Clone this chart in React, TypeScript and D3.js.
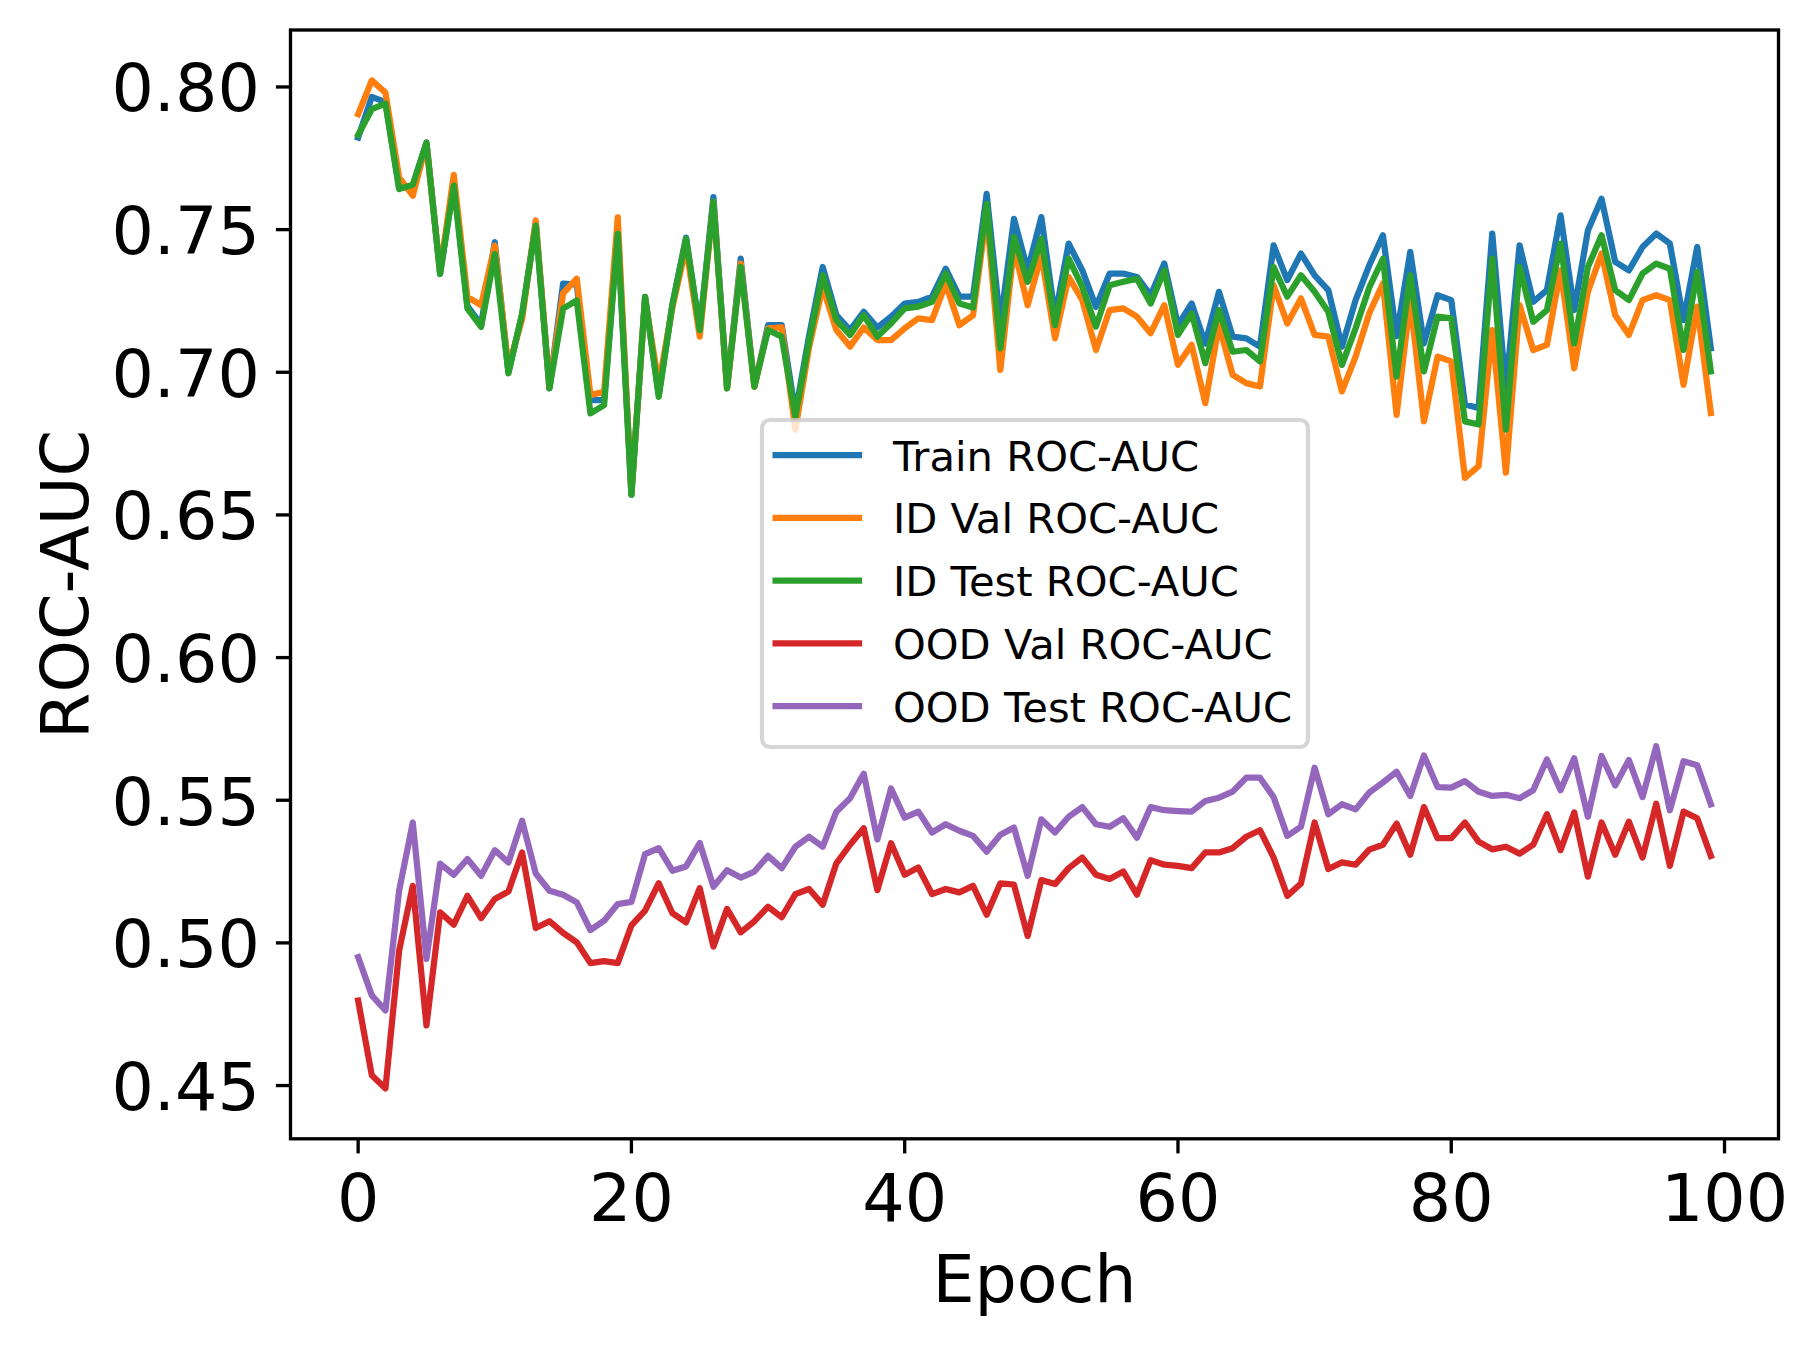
import React from "react";
import * as d3 from "d3";

// ---- Data ----
const trainAUC = [
  0.7823, 0.7965, 0.7947, 0.7647, 0.7652, 0.7805, 0.7345, 0.7667, 0.7232, 0.7167,
  0.7456, 0.7002, 0.7202, 0.7522, 0.6944, 0.7311, 0.7307, 0.6902, 0.6902, 0.7497,
  0.6571, 0.7264, 0.6922, 0.7237, 0.7472, 0.7147, 0.7614, 0.6944, 0.7398, 0.695,
  0.7165, 0.7165, 0.6857, 0.7127, 0.7369, 0.72, 0.7148, 0.7212, 0.7157, 0.7195,
  0.7241, 0.7247, 0.7265, 0.7363, 0.7265, 0.7265, 0.7625, 0.7171, 0.7538, 0.7357,
  0.7544, 0.7195, 0.7451, 0.7357, 0.7229, 0.7346, 0.7346, 0.7334, 0.727, 0.7381,
  0.7165, 0.7241, 0.7101, 0.7282, 0.7125, 0.7119, 0.709, 0.7445, 0.7323, 0.7416,
  0.734, 0.7288, 0.709, 0.7253, 0.7375, 0.748, 0.7127, 0.7422, 0.7101, 0.727,
  0.7253, 0.6887, 0.6875, 0.7486, 0.6939, 0.7445, 0.7247, 0.7288, 0.755, 0.7218,
  0.7497, 0.7608, 0.7387, 0.7357, 0.7439, 0.7486, 0.7451, 0.7183, 0.7439, 0.7084,
];

const idValAUC = [
  0.7905, 0.8023, 0.798, 0.7683, 0.7619, 0.7802, 0.7352, 0.7692, 0.7264, 0.7235,
  0.7444, 0.7017, 0.7186, 0.7532, 0.6947, 0.7277, 0.7328, 0.692, 0.6932, 0.7543,
  0.6577, 0.7257, 0.6957, 0.7227, 0.7439, 0.7125, 0.7597, 0.6944, 0.7381, 0.695,
  0.7154, 0.7157, 0.6799, 0.7087, 0.7299, 0.7148, 0.709, 0.7157, 0.7113, 0.7113,
  0.7154, 0.7189, 0.7183, 0.7311, 0.7165, 0.72, 0.7557, 0.7008, 0.7437, 0.7235,
  0.741, 0.7119, 0.7334, 0.7253, 0.7078, 0.7218, 0.7224, 0.7195, 0.7137, 0.7235,
  0.7026, 0.7096, 0.6892, 0.7165, 0.6991, 0.6962, 0.695, 0.7305, 0.7171, 0.7259,
  0.7131, 0.7125, 0.6933, 0.7055, 0.7207, 0.7311, 0.6851, 0.7253, 0.6828, 0.7055,
  0.7038, 0.663, 0.6671, 0.7148, 0.6648, 0.7235, 0.7078, 0.7096, 0.7357, 0.7014,
  0.7282, 0.7416, 0.72, 0.7131, 0.7253, 0.727, 0.7253, 0.6956, 0.723, 0.6857,
];

const idTestAUC = [
  0.7832, 0.7922, 0.7942, 0.7642, 0.7657, 0.7805, 0.7345, 0.7654, 0.7223, 0.7159,
  0.7415, 0.6996, 0.7206, 0.7514, 0.6944, 0.7223, 0.7252, 0.6856, 0.6885, 0.7485,
  0.6571, 0.7264, 0.6914, 0.7237, 0.7468, 0.7148, 0.7597, 0.6944, 0.7369, 0.695,
  0.7148, 0.7125, 0.6845, 0.7107, 0.734, 0.7183, 0.7131, 0.72, 0.7125, 0.7171,
  0.7224, 0.723, 0.7247, 0.7346, 0.7241, 0.7227, 0.759, 0.7084, 0.7474, 0.7317,
  0.7468, 0.7165, 0.7398, 0.7299, 0.716, 0.7305, 0.7317, 0.7328, 0.7241, 0.7357,
  0.7131, 0.7206, 0.7032, 0.7218, 0.7072, 0.7078, 0.7038, 0.7369, 0.7265, 0.734,
  0.7282, 0.7212, 0.7026, 0.7154, 0.7297, 0.7398, 0.6985, 0.734, 0.7003, 0.7195,
  0.7189, 0.6828, 0.6817, 0.7398, 0.6799, 0.7369, 0.7177, 0.7218, 0.7451, 0.7101,
  0.7369, 0.748, 0.7288, 0.7253, 0.7346, 0.7381, 0.7363, 0.7078, 0.7352, 0.7003,
];

const oodValAUC = [
  0.4798, 0.4536, 0.449, 0.4973, 0.52, 0.4711, 0.5107, 0.5064, 0.5165, 0.5087,
  0.5154, 0.518, 0.5317, 0.5052, 0.5076, 0.5035, 0.5002, 0.4929, 0.4936, 0.4929,
  0.5061, 0.5113, 0.5209, 0.5104, 0.5072, 0.5192, 0.4987, 0.5119, 0.5037, 0.5076,
  0.5127, 0.509, 0.5171, 0.5189, 0.5134, 0.5279, 0.5344, 0.5402, 0.5185, 0.5349,
  0.5239, 0.5264, 0.5171, 0.5189, 0.5177, 0.52, 0.5099, 0.5209, 0.5204, 0.5024,
  0.522, 0.5206, 0.5262, 0.5299, 0.5239, 0.5224, 0.525, 0.5169, 0.529, 0.5274,
  0.527, 0.5262, 0.5317, 0.5317, 0.5332, 0.5372, 0.5395, 0.5299, 0.5165, 0.5208,
  0.5422, 0.5259, 0.5282, 0.5274, 0.5327, 0.5344, 0.5418, 0.5309, 0.5476, 0.5367,
  0.5367, 0.5422, 0.5355, 0.5328, 0.5337, 0.5313, 0.5344, 0.5451, 0.5325, 0.5457,
  0.5232, 0.5422, 0.5309, 0.5425, 0.5299, 0.5488, 0.527, 0.546, 0.5437, 0.5305,
];

const oodTestAUC = [
  0.495, 0.4816, 0.4763, 0.5183, 0.5422, 0.4944, 0.5278, 0.5239, 0.5294, 0.5235,
  0.5325, 0.5282, 0.5428, 0.5243, 0.5183, 0.5169, 0.5142, 0.5045, 0.5078, 0.5136,
  0.5144, 0.5311, 0.5332, 0.5253, 0.5268, 0.535, 0.5197, 0.5255, 0.5229, 0.525,
  0.5305, 0.5262, 0.5337, 0.5372, 0.5337, 0.546, 0.5507, 0.5593, 0.5363, 0.5541,
  0.5439, 0.546, 0.5387, 0.5416, 0.5393, 0.5375, 0.532, 0.5379, 0.5404, 0.5235,
  0.5433, 0.5387, 0.5442, 0.5476, 0.5416, 0.5407, 0.5437, 0.5369, 0.5476, 0.5465,
  0.5462, 0.546, 0.5497, 0.5509, 0.553, 0.5579, 0.5579, 0.5511, 0.5375, 0.5407,
  0.5614, 0.5451, 0.5486, 0.5468, 0.5527, 0.5562, 0.56, 0.5515, 0.5657, 0.5546,
  0.5544, 0.5567, 0.553, 0.5515, 0.5519, 0.5507, 0.5535, 0.5643, 0.5535, 0.5647,
  0.5442, 0.5655, 0.5552, 0.5641, 0.5511, 0.5689, 0.5465, 0.5637, 0.5623, 0.5486,
];

const seriesLabels = [
  "Train ROC-AUC",
  "ID Val ROC-AUC",
  "ID Test ROC-AUC",
  "OOD Val ROC-AUC",
  "OOD Test ROC-AUC",
];
const seriesValues = [trainAUC, idValAUC, idTestAUC, oodValAUC, oodTestAUC];
const seriesColors = ["#1f77b4", "#ff7f0e", "#2ca02c", "#d62728", "#9467bd"];

const xLabel = "Epoch";
const yLabel = "ROC-AUC";

// ---- Layout ----
const W = 1818;
const H = 1346;
const AX = { left: 290.5, right: 1778.5, top: 30, bottom: 1138.8 };
const FONT = "'DejaVu Sans', sans-serif";
const TICK_FS = 66.7;
const LEG_FS = 41.67;
const LINE_W = 6.25;
const SPINE_W = 3.33;
const TICK_LEN = 14.6;

export default function App() {
  const n = trainAUC.length;
  const epochs = d3.range(n);

  // matplotlib-like 5% margins
  const xPad = (n - 1) * 0.05;
  const xScale = d3
    .scaleLinear()
    .domain([0 - xPad, n - 1 + xPad])
    .range([AX.left, AX.right]);

  const allVals = seriesValues.flat();
  const yMin = d3.min(allVals) as number;
  const yMax = d3.max(allVals) as number;
  const yPad = (yMax - yMin) * 0.05;
  const yScale = d3
    .scaleLinear()
    .domain([yMin - yPad, yMax + yPad])
    .range([AX.bottom, AX.top]);

  const xTicks = xScale.ticks(5).filter((t) => t >= 0);
  const yTicks = yScale.ticks(8);
  const yFmt = d3.format(".2f");

  const line = (vals: number[]) =>
    d3
      .line<number>()
      .x((_, i) => xScale(epochs[i]))
      .y((d) => yScale(d))(vals) as string;

  // legend layout
  const leg = { x: 762, y: 420, w: 546, h: 327 };
  const legRow0 = 455;
  const legRowStep = 62.75;
  const handleX0 = 775.6;
  const handleX1 = 859;
  const textX = 893;

  return (
    <svg
      width={W}
      height={H}
      viewBox={`0 0 ${W} ${H}`}
      style={{ position: "absolute", left: 0, top: 0, background: "#fff" }}
      fontFamily={FONT}
    >
      <rect x={0} y={0} width={W} height={H} fill="#fff" />
      <defs>
        <clipPath id="plotClip">
          <rect
            x={AX.left}
            y={AX.top}
            width={AX.right - AX.left}
            height={AX.bottom - AX.top}
          />
        </clipPath>
      </defs>

      {/* lines */}
      <g clipPath="url(#plotClip)">
        {seriesValues.map((vals, si) => (
          <path
            key={si}
            d={line(vals)}
            fill="none"
            stroke={seriesColors[si]}
            strokeWidth={LINE_W}
            strokeLinejoin="round"
            strokeLinecap="square"
          />
        ))}
      </g>

      {/* spines */}
      <rect
        x={AX.left}
        y={AX.top}
        width={AX.right - AX.left}
        height={AX.bottom - AX.top}
        fill="none"
        stroke="#000"
        strokeWidth={SPINE_W}
        strokeLinejoin="miter"
      />

      {/* x ticks */}
      {xTicks.map((t) => (
        <g key={"x" + t}>
          <line
            x1={xScale(t)}
            x2={xScale(t)}
            y1={AX.bottom}
            y2={AX.bottom + TICK_LEN}
            stroke="#000"
            strokeWidth={SPINE_W}
          />
          <text
            x={xScale(t)}
            y={1221}
            textAnchor="middle"
            fontSize={TICK_FS}
            fill="#000"
          >
            {String(t)}
          </text>
        </g>
      ))}

      {/* y ticks */}
      {yTicks.map((t) => (
        <g key={"y" + t}>
          <line
            x1={AX.left - TICK_LEN}
            x2={AX.left}
            y1={yScale(t)}
            y2={yScale(t)}
            stroke="#000"
            strokeWidth={SPINE_W}
          />
          <text
            x={AX.left - TICK_LEN - 16}
            y={yScale(t) + 24.5}
            textAnchor="end"
            fontSize={TICK_FS}
            fill="#000"
          >
            {yFmt(t)}
          </text>
        </g>
      ))}

      {/* axis labels */}
      <text
        x={(AX.left + AX.right) / 2}
        y={1302}
        textAnchor="middle"
        fontSize={TICK_FS}
        fill="#000"
      >
        {xLabel}
      </text>
      <text
        transform={`translate(88, ${(AX.top + AX.bottom) / 2}) rotate(-90)`}
        textAnchor="middle"
        fontSize={TICK_FS}
        fill="#000"
      >
        {yLabel}
      </text>

      {/* legend */}
      <rect
        x={leg.x}
        y={leg.y}
        width={leg.w}
        height={leg.h}
        rx={8}
        ry={8}
        fill="#fff"
        fillOpacity={0.8}
        stroke="#cccccc"
        strokeOpacity={0.8}
        strokeWidth={4.17}
      />
      {seriesLabels.map((lab, i) => {
        const yy = legRow0 + i * legRowStep;
        return (
          <g key={lab}>
            <line
              x1={handleX0}
              x2={handleX1}
              y1={yy}
              y2={yy}
              stroke={seriesColors[i]}
              strokeWidth={LINE_W}
              strokeLinecap="square"
            />
            <text x={textX} y={yy + 15.5} fontSize={LEG_FS} fill="#000">
              {lab}
            </text>
          </g>
        );
      })}
    </svg>
  );
}
